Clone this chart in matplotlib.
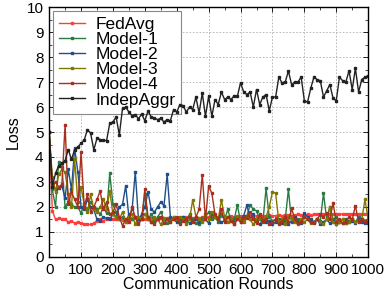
import matplotlib
matplotlib.use("Agg")
import matplotlib.pyplot as plt
import numpy as np
from matplotlib.ticker import MultipleLocator

plt.rcParams['font.family'] = ['Liberation Sans', 'DejaVu Sans']

rounds = list(range(0, 1001, 10))

fedavg = [5.0, 1.85, 1.5, 1.55, 1.5, 1.5, 1.4, 1.45, 1.35, 1.4,
          1.35, 1.3, 1.3, 1.3, 1.35, 1.45, 1.5, 1.45, 1.5, 1.55,
          1.5, 1.52, 1.5, 1.48, 1.5, 1.52, 1.5, 1.55, 1.5, 1.5,
          1.52, 1.5, 1.55, 1.5, 1.52, 1.55, 1.5, 1.55, 1.52, 1.55,
          1.55, 1.52, 1.55, 1.58, 1.55, 1.55, 1.58, 1.55, 1.58, 1.6,
          1.58, 1.6, 1.58, 1.6, 1.62, 1.6, 1.6, 1.62, 1.6, 1.62,
          1.65, 1.62, 1.62, 1.65, 1.62, 1.65, 1.65, 1.62, 1.65, 1.68,
          1.65, 1.65, 1.68, 1.65, 1.68, 1.68, 1.65, 1.68, 1.7, 1.68,
          1.68, 1.7, 1.68, 1.7, 1.7, 1.68, 1.7, 1.72, 1.7, 1.7,
          1.72, 1.7, 1.72, 1.7, 1.72, 1.72, 1.7, 1.72, 1.72, 1.7,
          1.72]

model1 = [5.0, 2.7, 2.0, 3.8, 3.6, 2.0, 2.2, 2.1, 2.0, 2.0,
          1.75, 2.1, 1.9, 2.2, 2.0, 1.9, 1.7, 2.0, 1.75, 3.35,
          2.1, 1.8, 1.5, 1.6, 1.4, 1.7, 1.5, 1.6, 1.3, 1.55,
          2.5, 1.5, 1.7, 1.4, 1.6, 1.8, 1.5, 1.35, 1.5, 1.6,
          1.5, 1.4, 1.6, 1.45, 1.7, 1.5, 1.35, 1.3, 1.55, 1.6,
          1.8, 1.5, 1.6, 1.4, 1.7, 1.5, 1.9, 1.45, 1.5, 2.08,
          1.4, 1.5, 1.65, 2.08, 1.9, 1.85, 1.5, 1.4, 2.75, 1.6,
          1.45, 1.5, 1.4, 1.35, 1.5, 2.7, 1.4, 1.55, 1.5, 1.45,
          1.6, 1.5, 1.45, 1.4, 1.5, 1.45, 2.55, 1.5, 2.0, 1.5,
          1.6, 1.4, 1.5, 1.35, 1.45, 1.5, 1.4, 1.6, 1.5, 1.45,
          1.5]

model2 = [5.0, 3.0, 2.7, 2.75, 2.85, 2.35, 3.5, 2.7, 4.35, 3.4,
          2.0, 1.9, 2.3, 2.0, 1.9, 1.5, 1.45, 1.6, 1.55, 1.5,
          1.7, 1.6, 2.0, 2.1, 2.85, 1.6, 1.9, 3.4, 1.5, 1.7,
          2.0, 2.6, 1.9, 1.8, 2.0, 2.2, 2.05, 3.3, 1.6, 1.5,
          1.4, 1.55, 1.6, 1.5, 1.35, 1.45, 1.5, 1.4, 1.45, 1.5,
          1.35, 1.7, 1.6, 1.5, 1.4, 1.45, 1.6, 1.5, 1.4, 1.55,
          1.5, 1.65, 2.08, 1.5, 1.7, 1.4, 1.3, 1.5, 1.4, 1.45,
          1.3, 1.4, 1.5, 1.35, 1.4, 1.3, 1.45, 1.6, 1.4, 1.35,
          1.75, 1.6, 1.5, 1.4, 1.5, 1.3, 1.4, 1.5, 1.35, 1.45,
          1.3, 1.4, 1.35, 1.5, 1.4, 1.45, 1.35, 1.5, 1.4, 1.35,
          1.35]

model3 = [5.0, 3.2, 2.6, 3.3, 3.5, 3.4, 2.5, 2.0, 3.9, 2.2,
          2.8, 2.1, 1.8, 2.5, 1.9, 1.8, 2.0, 2.3, 1.9, 2.65,
          1.7, 1.6, 1.5, 1.8, 1.4, 1.6, 1.7, 1.3, 1.6, 1.5,
          1.7, 1.5, 1.4, 1.6, 1.5, 1.3, 1.55, 1.5, 1.4, 1.6,
          1.5, 1.6, 1.5, 1.3, 1.5, 2.28, 1.6, 1.5, 1.4, 1.7,
          1.5, 1.8, 1.6, 1.5, 2.28, 1.6, 1.4, 1.5, 1.3, 1.6,
          1.5, 1.4, 1.6, 1.5, 1.3, 1.5, 1.55, 1.5, 1.6, 2.0,
          2.6, 2.55, 1.4, 1.5, 1.3, 1.6, 1.5, 1.4, 1.3, 1.5,
          1.4, 1.5, 1.35, 1.4, 1.5, 1.4, 1.3, 1.5, 2.0, 1.4,
          1.3, 1.4, 1.5, 1.35, 1.4, 1.5, 1.4, 1.45, 1.5, 2.3,
          1.5]

model4 = [5.0, 2.8, 3.0, 2.8, 2.9, 5.3, 2.1, 2.6, 2.3, 2.0,
          4.2, 2.0, 2.5, 1.8, 2.0, 2.3, 2.64, 1.9, 2.2, 1.7,
          1.8, 2.1, 1.6, 1.25, 1.5, 1.4, 2.0, 1.6, 1.35, 1.5,
          2.7, 1.6, 1.4, 1.3, 1.5, 1.6, 1.35, 1.5, 1.4, 1.5,
          1.6, 1.3, 1.45, 1.5, 1.6, 1.4, 1.6, 1.9, 3.28, 1.5,
          2.84, 2.55, 1.7, 1.5, 1.9, 1.4, 1.6, 1.45, 1.3, 1.5,
          1.4, 1.6, 1.55, 1.8, 1.5, 1.35, 1.7, 1.45, 1.5, 1.3,
          1.4, 1.5, 1.3, 1.45, 1.6, 1.4, 1.95, 1.5, 1.35, 1.4,
          1.6, 1.5, 1.4, 1.35, 1.5, 1.7, 1.6, 1.75, 1.5, 2.15,
          1.4, 1.5, 1.35, 1.4, 1.6, 1.5, 2.05, 1.4, 1.5, 1.45,
          1.4]

indep = [5.0, 2.8, 3.35, 3.65, 3.75, 3.85, 4.3, 3.9, 4.3, 4.4,
         4.55, 4.68, 5.1, 4.95, 4.28, 4.75, 4.7, 4.68, 4.65, 5.35,
         5.4, 5.6, 4.88, 5.95, 6.0, 5.8, 5.65, 5.7, 5.53, 5.72,
         5.45, 5.84, 5.6, 5.55, 5.5, 5.55, 5.4, 5.5, 5.45, 5.9,
         5.8, 6.1, 6.05, 5.8, 6.0, 5.9, 6.4, 5.76, 6.56, 5.63,
         6.43, 5.63, 6.3, 6.1, 6.6, 6.3, 6.4, 6.3, 6.45, 6.43,
         6.97, 6.6, 6.5, 6.6, 6.0, 6.7, 6.1, 6.4, 6.5, 5.85,
         6.4, 6.4, 7.2, 6.97, 7.0, 7.44, 6.9, 7.0, 7.0, 7.2,
         6.25, 6.2, 6.75, 7.2, 7.1, 7.05, 6.4, 6.65, 6.9, 6.35,
         6.25, 7.2, 7.05, 7.0, 7.45, 6.7, 7.55, 6.6, 7.1, 7.2,
         7.25]

labels = ["FedAvg", "Model-1", "Model-2", "Model-3", "Model-4", "IndepAggr"]
series = [fedavg, model1, model2, model3, model4, indep]
colors = ["#ff3b3b", "#2a7a45", "#1f4f8a", "#807800", "#a8301c", "#222222"]

fig = plt.figure(figsize=(3.9, 2.95), dpi=100)
ax = fig.add_axes([0.126, 0.129, 0.818, 0.847])
ax.set_axisbelow(True)

for lab, ys, c in zip(labels, series, colors):
    n = min(len(rounds), len(ys))
    ax.plot(rounds[:n], ys[:n], color=c, lw=1.0, marker='s', ms=2.0,
            mec=c, mfc=c, label=lab, zorder=2)

ax.set_xlim(0, 1000)
ax.set_ylim(0, 10)
ax.xaxis.set_major_locator(MultipleLocator(100))
ax.yaxis.set_major_locator(MultipleLocator(1))
ax.yaxis.set_minor_locator(MultipleLocator(0.5))
ax.xaxis.set_minor_locator(MultipleLocator(50))
ax.tick_params(which='both', direction='in', top=True, right=True, labelsize=11, pad=4)
ax.tick_params(which='major', length=3.5, width=0.6)
ax.tick_params(which='minor', length=2, width=0.5)
ax.grid(True, which='major', ls=(0, (2, 2)), color='#b0b0b0', lw=0.6)
for s in ax.spines.values():
    s.set_linewidth(1.0)

ax.set_xlabel("Communication Rounds", fontsize=11.5, labelpad=0)
ax.set_ylabel("Loss", fontsize=11.5, labelpad=4)

leg = ax.legend(loc='upper left', fontsize=12.5, frameon=True, fancybox=False,
                framealpha=1.0, edgecolor='#888888', borderpad=0.35,
                labelspacing=0.0, handlelength=1.5, handletextpad=0.6,
                borderaxespad=0.2)
leg.get_frame().set_linewidth(0.8)
leg.set_zorder(1)

fig.savefig("out.png", dpi=100)
